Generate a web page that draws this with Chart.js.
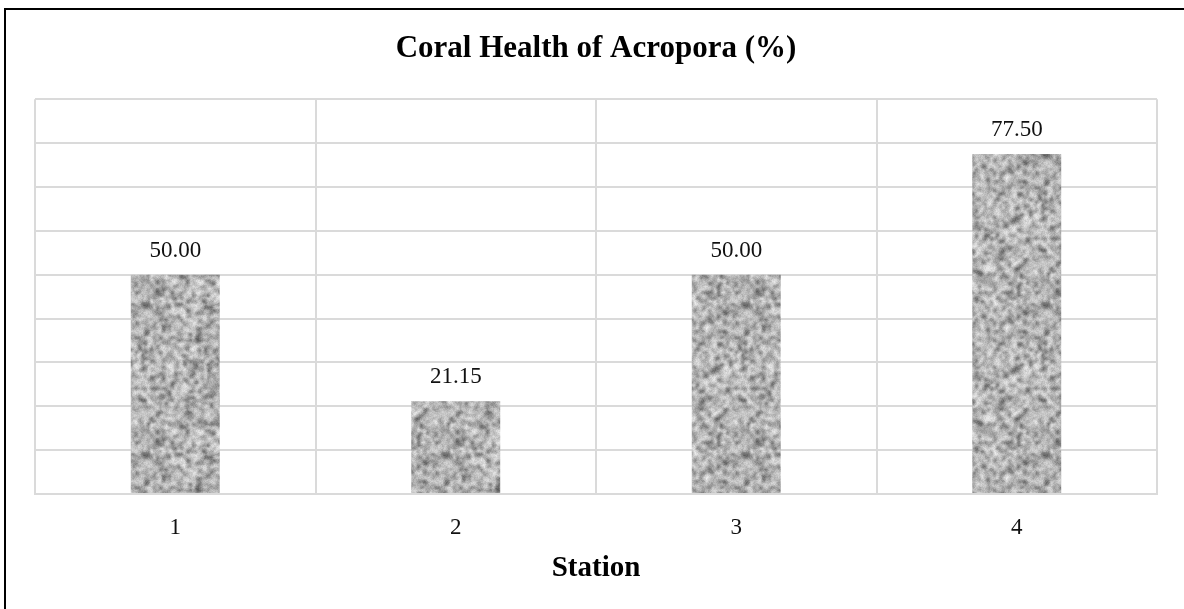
<!DOCTYPE html>
<html>
<head>
<meta charset="utf-8">
<title>Coral Health of Acropora</title>
<script src="https://cdn.jsdelivr.net/npm/chart.js@4.4.1/dist/chart.umd.min.js"></script>
<style>
    html, body { margin: 0; padding: 0; background: #fff; }
    #wrap { width: 1184px; height: 609px; position: relative; }
</style>
</head>
<body>
<div id="wrap"><canvas id="coralChart"></canvas></div>
<script>
/****************************** Data ********************************/
const stations = ["1", "2", "3", "4"];
const healthValues = [50.00, 21.15, 50.00, 77.50];
const yMax = 90;
const yStep = 10;

const serif = "'Liberation Serif', 'Times New Roman', serif";

/****************************** Granite texture for the bars ********************************/
// seeded noise so the texture looks the same every run
function mulberry32(a) {
    return function () {
        a |= 0; a = a + 0x6D2B79F5 | 0;
        let t = Math.imul(a ^ a >>> 15, 1 | a);
        t = t + Math.imul(t ^ t >>> 7, 61 | t) ^ t;
        return ((t ^ t >>> 14) >>> 0) / 4294967296;
    };
}

function makeGranite() {
    const rand = mulberry32(12345);
    const size = 150;
    const cell = 3;

    // coarse blotches
    const small = document.createElement('canvas');
    small.width = size / cell; small.height = size / cell;
    const sctx = small.getContext('2d');
    const img = sctx.createImageData(small.width, small.height);
    for (let i = 0; i < img.data.length; i += 4) {
        let g = 135 + rand() * 105;
        if (rand() < 0.12) g = 75 + rand() * 40; // dark specks
        img.data[i] = g; img.data[i + 1] = g; img.data[i + 2] = g; img.data[i + 3] = 255;
    }
    sctx.putImageData(img, 0, 0);

    // blur on a 3x3 repeat so the tile edges wrap without seams
    const big = document.createElement('canvas');
    big.width = size * 3; big.height = size * 3;
    const bctx = big.getContext('2d');
    bctx.imageSmoothingEnabled = true;
    bctx.filter = 'blur(1px)';
    const rep = document.createElement('canvas');
    rep.width = size * 3; rep.height = size * 3;
    const rctx = rep.getContext('2d');
    rctx.imageSmoothingEnabled = true;
    for (let i = 0; i < 3; i++) {
        for (let j = 0; j < 3; j++) {
            rctx.drawImage(small, i * size, j * size, size, size);
        }
    }
    bctx.drawImage(rep, 0, 0);

    const tile = document.createElement('canvas');
    tile.width = size; tile.height = size;
    const tctx = tile.getContext('2d');
    tctx.drawImage(big, size, size, size, size, 0, 0, size, size);

    // a little fine grain on top
    const fine = tctx.getImageData(0, 0, size, size);
    for (let i = 0; i < fine.data.length; i += 4) {
        const d = (rand() - 0.5) * 24;
        fine.data[i] += d; fine.data[i + 1] += d; fine.data[i + 2] += d;
        fine.data[i + 3] = 255;
    }
    tctx.putImageData(fine, 0, 0);

    return tctx.createPattern(tile, 'repeat');
}

/****************************** Plugins ********************************/
// outer frame (only the top and left edges are visible in the picture)
const framePlugin = {
    id: 'frame',
    beforeDraw(chart) {
        const c = chart.ctx;
        c.save();
        c.fillStyle = '#fff';
        c.fillRect(0, 0, chart.width, chart.height);
        c.strokeStyle = '#000';
        c.lineWidth = 2;
        c.beginPath();
        c.moveTo(5, chart.height);
        c.lineTo(5, 9);
        c.lineTo(chart.width, 9);
        c.stroke();
        c.restore();
    }
};

// value labels above each bar
const valueLabels = {
    id: 'valueLabels',
    afterDatasetsDraw(chart) {
        const c = chart.ctx;
        const meta = chart.getDatasetMeta(0);
        c.save();
        c.font = '23px ' + serif;
        c.fillStyle = '#111';
        c.textAlign = 'center';
        c.textBaseline = 'middle';
        meta.data.forEach((bar, i) => {
            c.fillText(healthValues[i].toFixed(2), bar.x, bar.y - 24);
        });
        c.restore();
    }
};

/****************************** Chart ********************************/
const ctx = document.getElementById('coralChart').getContext('2d');

new Chart(ctx, {
    type: 'bar',
    data: {
        labels: stations,
        datasets: [{
            data: healthValues,
            backgroundColor: makeGranite(),
            borderWidth: 0,
            categoryPercentage: 1,
            barPercentage: 0.317
        }]
    },
    options: {
        responsive: true,
        maintainAspectRatio: false,
        animation: false,
        layout: {
            padding: { left: 35, right: 27, top: 0, bottom: 23 }
        },
        plugins: {
            legend: { display: false },
            tooltip: { enabled: false },
            title: {
                display: true,
                text: 'Coral Health of Acropora (%)',
                color: '#000',
                font: { family: serif, size: 31, weight: 'bold' },
                padding: { top: 30, bottom: 32 }
            }
        },
        scales: {
            x: {
                afterFit(scale) { scale.height = 92; },
                grid: { color: '#dadada', lineWidth: 2, drawTicks: false, offset: true },
                border: { color: '#dadada', width: 2 },
                ticks: {
                    color: '#111',
                    padding: 20,
                    font: { family: serif, size: 23 }
                },
                title: {
                    display: true,
                    text: 'Station',
                    color: '#000',
                    font: { family: serif, size: 29, weight: 'bold' },
                    padding: { top: 0, bottom: 0 }
                }
            },
            y: {
                min: 0,
                max: yMax,
                ticks: { display: false, stepSize: yStep },
                grid: { color: '#dadada', lineWidth: 2, drawTicks: false },
                border: { display: false }
            }
        }
    },
    plugins: [framePlugin, valueLabels]
});
</script>
</body>
</html>
